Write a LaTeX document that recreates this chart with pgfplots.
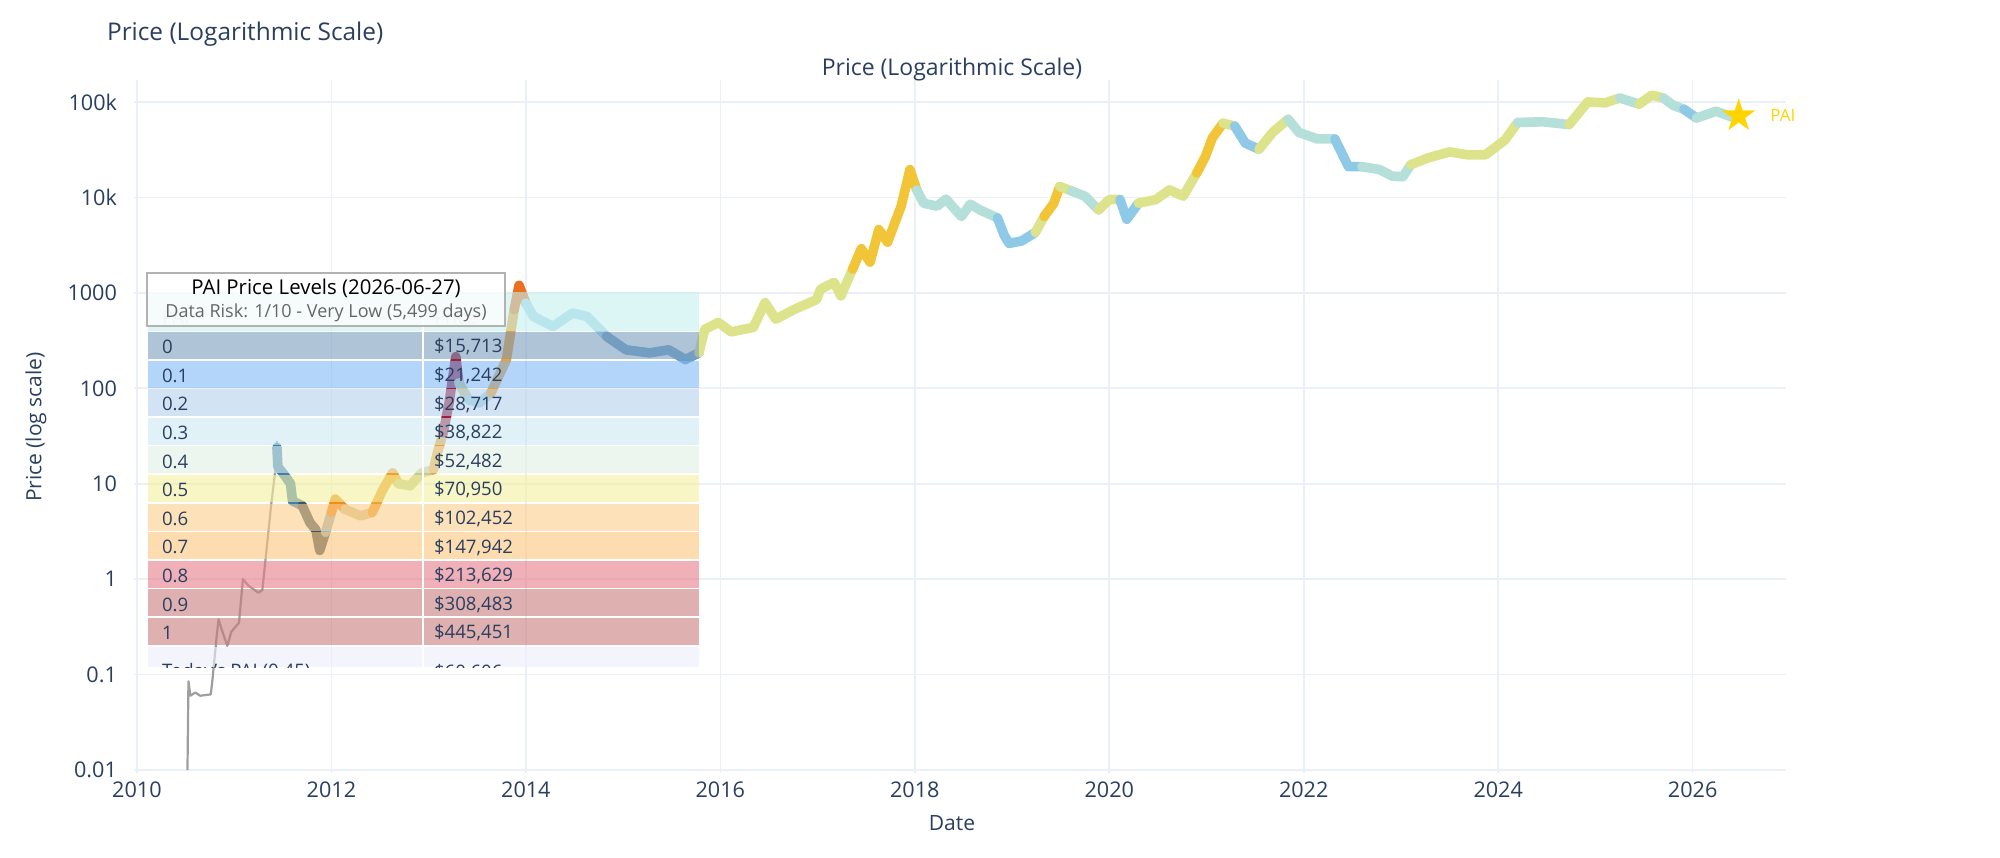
\documentclass[border=0pt]{standalone}
\usepackage{pgfplots}
\pgfplotsset{compat=1.18}
\usepackage{fontspec}
\setmainfont{Open Sans}
\newfontfamily\symfont{DejaVu Sans}
\definecolor{tc}{HTML}{2A3F5F}
\definecolor{gridc}{HTML}{EBF0F8}
\definecolor{cB}{HTML}{3F7FB5}
\definecolor{cD}{HTML}{3D5565}
\definecolor{cG}{HTML}{9AB8C0}
\definecolor{cO}{HTML}{F08C1E}
\definecolor{cT}{HTML}{D8C898}
\definecolor{cA}{HTML}{F0A030}
\definecolor{cY}{HTML}{DCE38A}
\definecolor{cM}{HTML}{A0203C}
\definecolor{cK}{HTML}{C8C890}
\definecolor{cL}{HTML}{A8D8E6}
\definecolor{cR}{HTML}{E87020}
\definecolor{cS}{HTML}{6A9EC8}
\definecolor{cQ}{HTML}{F2C438}
\definecolor{cE}{HTML}{B5E0DA}
\definecolor{cW}{HTML}{8ECAE8}
\definecolor{gold}{HTML}{FFD400}
\definecolor{h0}{RGB}{197,240,240}
\definecolor{r0}{RGB}{123,157,190}
\definecolor{r1}{RGB}{128,185,247}
\definecolor{r2}{RGB}{180,210,237}
\definecolor{r3}{RGB}{203,233,243}
\definecolor{r4}{RGB}{225,240,227}
\definecolor{r5}{RGB}{243,240,157}
\definecolor{r6}{RGB}{252,205,138}
\definecolor{r7}{RGB}{252,197,123}
\definecolor{r8}{RGB}{230,123,137}
\definecolor{r9}{RGB}{200,123,123}
\definecolor{rt}{RGB}{237,237,250}
\pgfplotsset{seg/.style={line width=4.8pt, line cap=round, line join=round, no markers, #1}}
\begin{document}
\begin{tikzpicture}
\path[use as bounding box] (-67pt,-42pt) rectangle (933pt,386.5pt);
\begin{axis}[
  at={(0pt,0pt)}, anchor=south west, scale only axis,
  width=826pt, height=346.5pt,
  xmin=2009.97, xmax=2026.96,
  ymode=log, ymin=0.0093, ymax=170000,
  axis line style={draw=none},
  major tick length=0pt,
  grid=major, grid style={gridc, line width=0.8pt},
  xtick={2010,2012,...,2026},
  ytick={0.01,0.1,1,10,100,1000,10000,100000},
  yticklabels={0.01,0.1,1,10,100,1000,10k,100k},
  /pgf/number format/1000 sep={},
  /pgf/number format/assume math mode=true,
  ticklabel style={font=\fontsize{10.8}{12}\selectfont, text=tc},
  yticklabel style={xshift=-5pt},
  xticklabel style={yshift=-1pt},
  log basis y=10,
]
\addplot[line width=1.1pt, color=black!38, line join=round] coordinates {(2010.52,0.01)(2010.53,0.085)(2010.55,0.06)(2010.6,0.065)(2010.65,0.06)(2010.76,0.062)(2010.78,0.095)(2010.82,0.25)(2010.84,0.38)(2010.87,0.3)(2010.93,0.2)(2010.97,0.28)(2011.05,0.35)(2011.09,1.0)(2011.15,0.85)(2011.25,0.72)(2011.29,0.77)(2011.33,1.9)(2011.38,5.9)(2011.42,13)(2011.44,28)};
\addplot[seg=cB] coordinates {(2011.44,24)(2011.45,15)(2011.50,13)(2011.58,10)(2011.60,6.6)(2011.70,5.9)};
\addplot[seg=cD] coordinates {(2011.70,5.9)(2011.78,3.9)(2011.84,3.3)(2011.88,2.0)(2011.94,3.1)};
\addplot[seg=cG] coordinates {(2011.94,3.1)(2012.0,5.0)};
\addplot[seg=cO] coordinates {(2012.0,5.0)(2012.04,6.9)(2012.14,5.4)};
\addplot[seg=cT] coordinates {(2012.14,5.4)(2012.30,4.6)(2012.42,5.0)};
\addplot[seg=cA] coordinates {(2012.42,5.0)(2012.53,8.7)(2012.63,13)(2012.69,10)};
\addplot[seg=cK] coordinates {(2012.69,10)(2012.81,9.5)(2012.93,13)(2013.05,14)};
\addplot[seg=cA] coordinates {(2013.05,14)(2013.09,21)(2013.15,34)};
\addplot[seg=cM] coordinates {(2013.15,34)(2013.21,70)(2013.28,215)(2013.31,114)};
\addplot[seg=cK] coordinates {(2013.31,114)(2013.41,76)};
\addplot[seg=cL] coordinates {(2013.41,76)(2013.52,70)(2013.64,89)};
\addplot[seg=cA] coordinates {(2013.64,89)(2013.80,200)(2013.88,665)};
\addplot[seg=cR] coordinates {(2013.88,665)(2013.93,1200)(2014.0,780)};
\addplot[seg=cL] coordinates {(2014.0,780)(2014.08,565)(2014.28,445)(2014.48,615)(2014.63,565)(2014.83,350)};
\addplot[seg=cS] coordinates {(2014.83,350)(2015.03,253)(2015.27,235)(2015.47,253)(2015.64,200)(2015.78,235)};
\addplot[seg=cY] coordinates {(2015.78,235)(2015.84,415)(2015.98,490)(2016.11,390)(2016.34,435)(2016.46,790)(2016.57,530)(2016.76,670)(2016.99,850)(2017.03,1090)(2017.17,1290)(2017.24,930)(2017.36,1770)};
\addplot[seg=cQ] coordinates {(2017.36,1770)(2017.45,2900)(2017.54,2100)(2017.63,4600)(2017.72,3400)(2017.86,8100)(2017.95,19600)(2018.02,12000)};
\addplot[seg=cE] coordinates {(2018.02,12000)(2018.09,8700)(2018.23,8100)(2018.32,9600)(2018.48,6300)(2018.57,8500)(2018.67,7400)(2018.85,6100)};
\addplot[seg=cW] coordinates {(2018.85,6100)(2018.92,4000)(2018.97,3300)(2019.10,3500)(2019.24,4300)};
\addplot[seg=cY] coordinates {(2019.24,4300)(2019.33,6300)};
\addplot[seg=cQ] coordinates {(2019.33,6300)(2019.43,8700)(2019.49,13000)};
\addplot[seg=cY] coordinates {(2019.49,13000)(2019.61,11700)};
\addplot[seg=cE] coordinates {(2019.61,11700)(2019.75,10300)(2019.89,7400)};
\addplot[seg=cY] coordinates {(2019.89,7400)(2020.0,9500)(2020.11,9500)};
\addplot[seg=cW] coordinates {(2020.11,9500)(2020.18,5900)(2020.30,8700)};
\addplot[seg=cY] coordinates {(2020.30,8700)(2020.48,9500)(2020.62,12000)(2020.76,10300)(2020.90,18000)};
\addplot[seg=cQ] coordinates {(2020.90,18000)(2020.99,27000)(2021.06,42000)(2021.17,60000)};
\addplot[seg=cY] coordinates {(2021.17,60000)(2021.29,56000)};
\addplot[seg=cW] coordinates {(2021.29,56000)(2021.40,37000)(2021.54,32000)};
\addplot[seg=cY] coordinates {(2021.54,32000)(2021.68,48000)(2021.84,66000)};
\addplot[seg=cE] coordinates {(2021.84,66000)(2021.95,48000)(2022.14,41000)(2022.32,41000)};
\addplot[seg=cW] coordinates {(2022.32,41000)(2022.46,21000)(2022.6,21000)};
\addplot[seg=cE] coordinates {(2022.6,21000)(2022.78,19600)(2022.91,16700)(2023.02,16500)(2023.1,22000)};
\addplot[seg=cY] coordinates {(2023.1,22000)(2023.28,26000)(2023.5,30000)(2023.68,28000)(2023.87,28000)(2024.07,40000)(2024.2,61000)};
\addplot[seg=cE] coordinates {(2024.2,61000)(2024.46,62000)(2024.73,58000)};
\addplot[seg=cY] coordinates {(2024.73,58000)(2024.92,100000)(2025.1,98000)(2025.25,110000)};
\addplot[seg=cE] coordinates {(2025.25,110000)(2025.45,95000)};
\addplot[seg=cY] coordinates {(2025.45,95000)(2025.58,118000)(2025.7,110000)};
\addplot[seg=cE] coordinates {(2025.7,110000)(2025.8,92000)(2025.91,84000)};
\addplot[seg=cW] coordinates {(2025.91,84000)(2026.04,68000)};
\addplot[seg=cE] coordinates {(2026.04,68000)(2026.24,80000)(2026.43,68000)};
\addplot[only marks, mark=none, nodes near coords={\symfont\fontsize{22}{22}\selectfont\color{gold}★}, nodes near coords align={center}] coordinates {(2026.48,73000)};
\addplot[only marks, mark=none, nodes near coords={\fontsize{8.5}{10}\selectfont\color{gold}PAI}, nodes near coords align={anchor=west}, every node near coord/.append style={xshift=12pt}] coordinates {(2026.48,73000)};
\end{axis}
\begin{scope}[x=0.5pt, y=-0.5pt, shift={(-67pt,386.5pt)}]
  \node[anchor=west, text=tc, font=\fontsize{12.2}{14}\selectfont] at (100,34) {Price (Logarithmic Scale)};
  \node[text=tc, font=\fontsize{11.5}{14}\selectfont] at (952,70) {Price (Logarithmic Scale)};
  \node[text=tc, font=\fontsize{10.5}{13}\selectfont] at (952,823) {Date};
  \node[text=tc, font=\fontsize{10.5}{13}\selectfont, rotate=90] at (36,427) {Price (log scale)};
  \fill[h0, opacity=0.6] (148,292) rectangle (699,331);
  \node[text=black!18, font=\fontsize{9.3}{10}\selectfont, anchor=west] at (155,318) {PAI};
  \node[text=black!18, font=\fontsize{9.3}{10}\selectfont, anchor=west] at (427,318) {Price};
  \foreach \c [count=\i from 0] in {r0,r1,r2,r3,r4,r5,r6,r7,r8,r9,r9} {
    \fill[\c, opacity=0.6] (148,{332+28.6*\i}) rectangle (699,{332+28.6*\i+27});
  }
  \fill[rt, opacity=0.6] (148,647) rectangle (699,667);
  \draw[white, line width=1pt] (423,292) -- (423,667);
  \foreach \l/\p [count=\i from 0] in {0/{\$15,713},0.1/{\$21,242},0.2/{\$28,717},0.3/{\$38,822},0.4/{\$52,482},0.5/{\$70,950},0.6/{\$102,452},0.7/{\$147,942},0.8/{\$213,629},0.9/{\$308,483},1/{\$445,451}} {
    \node[anchor=west, text=tc, font=\fontsize{9.3}{10}\selectfont] at (155,{347+28.6*\i}) {\l};
    \node[anchor=west, text=tc, font=\fontsize{9.3}{10}\selectfont] at (427,{347+28.6*\i}) {\p};
  }
  \begin{scope}
    \clip (148,647) rectangle (699,667);
    \node[anchor=west, text=tc, font=\fontsize{9.3}{10}\selectfont] at (155,673) {Today's PAI (0.45)};
    \node[anchor=west, text=tc, font=\fontsize{9.3}{10}\selectfont] at (427,673) {\$60,606};
  \end{scope}
  \fill[white, opacity=0.75] (147,273) rectangle (505,326);
  \draw[black!30, line width=0.9pt] (147,273) rectangle (505,326);
  \node[text=black, font=\fontsize{10.2}{12}\selectfont] at (326,288) {PAI Price Levels (2026-06-27)};
  \node[text=black!60, font=\fontsize{9}{10}\selectfont] at (326,313) {Data Risk: 1/10 - Very Low (5,499 days)};
\end{scope}
\end{tikzpicture}
\end{document}
